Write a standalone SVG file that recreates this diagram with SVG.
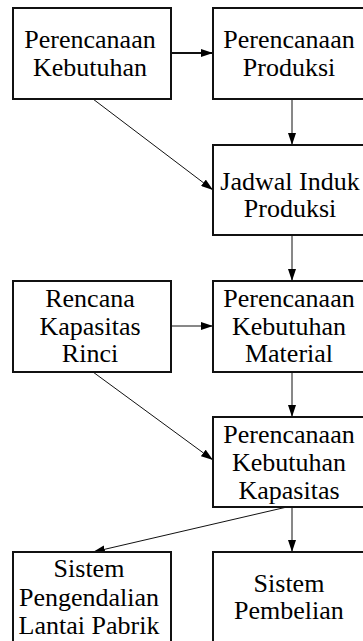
<svg xmlns="http://www.w3.org/2000/svg" width="363" height="641" viewBox="0 0 363 641">
<style>
.box{fill:#fff;stroke:#111;stroke-width:2}
.t{font-family:"Liberation Serif","Times New Roman",serif;font-size:26px;fill:#000;text-anchor:middle}
.c{stroke:#111;stroke-width:1;fill:none}
.c2{stroke:#111;stroke-width:2;fill:none}
</style>
<defs>
<marker id="ah" markerWidth="12" markerHeight="8" refX="12" refY="4" orient="auto" markerUnits="userSpaceOnUse"><path d="M0,0 L12,4 L0,8 z" fill="#000"/></marker>
</defs>
<g id="connectors">
<line class="c2" x1="171" y1="53" x2="213" y2="53" marker-end="url(#ah)"/>
<line class="c" x1="292" y1="99" x2="292" y2="145" marker-end="url(#ah)"/>
<line class="c" x1="93" y1="99" x2="213" y2="190" marker-end="url(#ah)"/>
<line class="c" x1="292" y1="235" x2="292" y2="281" marker-end="url(#ah)"/>
<line class="c" x1="171" y1="326" x2="213" y2="326" marker-end="url(#ah)"/>
<line class="c" x1="292" y1="372" x2="292" y2="417" marker-end="url(#ah)"/>
<line class="c" x1="93" y1="372" x2="213" y2="460" marker-end="url(#ah)"/>
<line class="c" x1="292" y1="507" x2="292" y2="552" marker-end="url(#ah)"/>
<line class="c" x1="287" y1="507" x2="93" y2="552" marker-end="url(#ah)"/>
</g>
<g id="perencanaan-kebutuhan">
<rect class="box" x="13" y="8" width="158" height="91"/>
<text class="t" x="90" y="48">Perencanaan</text>
<text class="t" x="90" y="76">Kebutuhan</text>
</g>
<g id="perencanaan-produksi">
<rect class="box" x="213" y="8" width="158" height="91"/>
<text class="t" x="289" y="48">Perencanaan</text>
<text class="t" x="289" y="76">Produksi</text>
</g>
<g id="jadwal-induk-produksi">
<rect class="box" x="213" y="145" width="158" height="90"/>
<text class="t" x="290" y="190">Jadwal Induk</text>
<text class="t" x="290" y="217">Produksi</text>
</g>
<g id="rencana-kapasitas-rinci">
<rect class="box" x="13" y="281" width="158" height="91"/>
<text class="t" x="90" y="307">Rencana</text>
<text class="t" x="90" y="335">Kapasitas</text>
<text class="t" x="90" y="362">Rinci</text>
</g>
<g id="perencanaan-kebutuhan-material">
<rect class="box" x="213" y="281" width="158" height="91"/>
<text class="t" x="289" y="307">Perencanaan</text>
<text class="t" x="289" y="335">Kebutuhan</text>
<text class="t" x="289" y="362">Material</text>
</g>
<g id="perencanaan-kebutuhan-kapasitas">
<rect class="box" x="213" y="417" width="158" height="90"/>
<text class="t" x="289" y="443">Perencanaan</text>
<text class="t" x="289" y="471">Kebutuhan</text>
<text class="t" x="289" y="499">Kapasitas</text>
</g>
<g id="sistem-pengendalian-lantai-pabrik">
<rect class="box" x="13" y="552" width="158" height="91"/>
<text class="t" x="89" y="577">Sistem</text>
<text class="t" x="89" y="606">Pengendalian</text>
<text class="t" x="89" y="634">Lantai Pabrik</text>
</g>
<g id="sistem-pembelian">
<rect class="box" x="213" y="552" width="158" height="91"/>
<text class="t" x="289" y="592">Sistem</text>
<text class="t" x="289" y="619">Pembelian</text>
</g>
</svg>
